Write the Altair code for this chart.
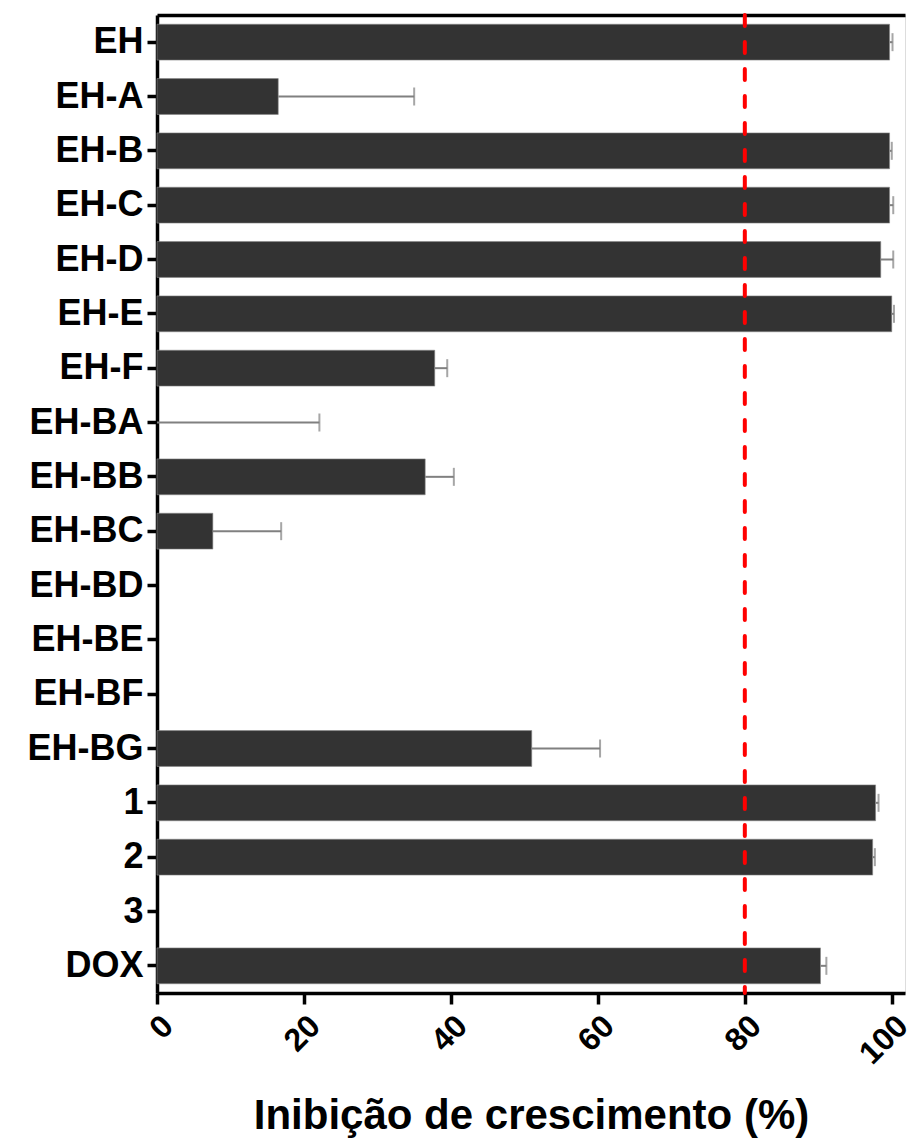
import altair as alt
import pandas as pd

categories = ["EH", "EH-A", "EH-B", "EH-C", "EH-D", "EH-E", "EH-F", "EH-BA", "EH-BB",
              "EH-BC", "EH-BD", "EH-BE", "EH-BF", "EH-BG", "1", "2", "3", "DOX"]
values = [99.7, 16.5, 99.7, 99.7, 98.5, 100.0, 37.8, 0.0, 36.5,
          7.6, 0.0, 0.0, 0.0, 51.0, 97.8, 97.4, 0.0, 90.3]
errors = [0.4, 18.5, 0.3, 0.5, 1.7, 0.3, 1.7, 22.1, 3.9,
          9.3, 0.0, 0.0, 0.0, 9.3, 0.4, 0.3, 0.0, 0.8]
threshold = [80]
x_ticks = [0, 20, 40, 60, 80, 100]

df = pd.DataFrame({"cat": categories, "val": values, "err": errors})
df["hi"] = df["val"] + df["err"]
df_err = df[df["err"] > 0]
thr = pd.DataFrame({"thr": threshold})

FONT = "Liberation Sans"
xscale = alt.Scale(domain=[0, 101.8], nice=False, zero=True)
yscale = alt.Scale(domain=categories, paddingInner=0.34, paddingOuter=0.17)

bottom_axis = alt.Axis(
    values=x_ticks, title="Inibição de crescimento (%)", grid=False,
    domainColor="black", domainWidth=3.5, tickColor="black", tickWidth=3.5, tickSize=11,
    labelAngle=-45, labelFont=FONT, labelFontSize=32, labelFontWeight="bold",
    labelColor="black", labelPadding=6,
    titleFont=FONT, titleFontSize=42, titleFontWeight="bold", titleColor="black",
    titlePadding=26,
)
y_axis = alt.Axis(
    title=None, grid=False, domainColor="black", domainWidth=3.5,
    tickColor="black", tickWidth=3.5, tickSize=10,
    labelFont=FONT, labelFontSize=36, labelFontWeight="bold", labelColor="black",
    labelPadding=4,
)

bars = alt.Chart(df).mark_bar(color="#333333", stroke="#8a8a8a", strokeWidth=0.6).encode(
    x=alt.X("val:Q", scale=xscale, axis=bottom_axis),
    y=alt.Y("cat:N", scale=yscale, axis=y_axis, sort=categories),
    opacity=alt.condition("datum.val > 0", alt.value(1), alt.value(0)),
)

err_rule = alt.Chart(df_err).mark_rule(color="#808080", strokeWidth=2).encode(
    x=alt.X("val:Q", scale=xscale, axis=None),
    x2="hi:Q",
    y=alt.Y("cat:N", scale=yscale, sort=categories),
)

err_cap = alt.Chart(df_err).mark_tick(color="#808080", thickness=2, size=18, orient="vertical").encode(
    x=alt.X("hi:Q", scale=xscale, axis=None),
    y=alt.Y("cat:N", scale=yscale, sort=categories),
)

top_axis = alt.Axis(orient="top", labels=False, ticks=False, title=None, grid=False,
                    domainColor="black", domainWidth=3.5, values=x_ticks)

red = alt.Chart(thr).mark_rule(color="#ff0000", strokeWidth=4, strokeDash=[11, 16],
                               strokeCap="round").encode(
    x=alt.X("thr:Q", scale=xscale, axis=top_axis),
)

chart = alt.layer(bars, err_rule, err_cap, red).resolve_axis(x="independent").properties(
    width=748, height=978,
    autosize=alt.AutoSizeParams(type="none"),
    padding={"left": 149, "top": 7, "right": 8, "bottom": 153},
).configure_view(stroke=None).configure(background="white")

chart.save("out.html", embed_options={"renderer": "svg", "actions": False})
